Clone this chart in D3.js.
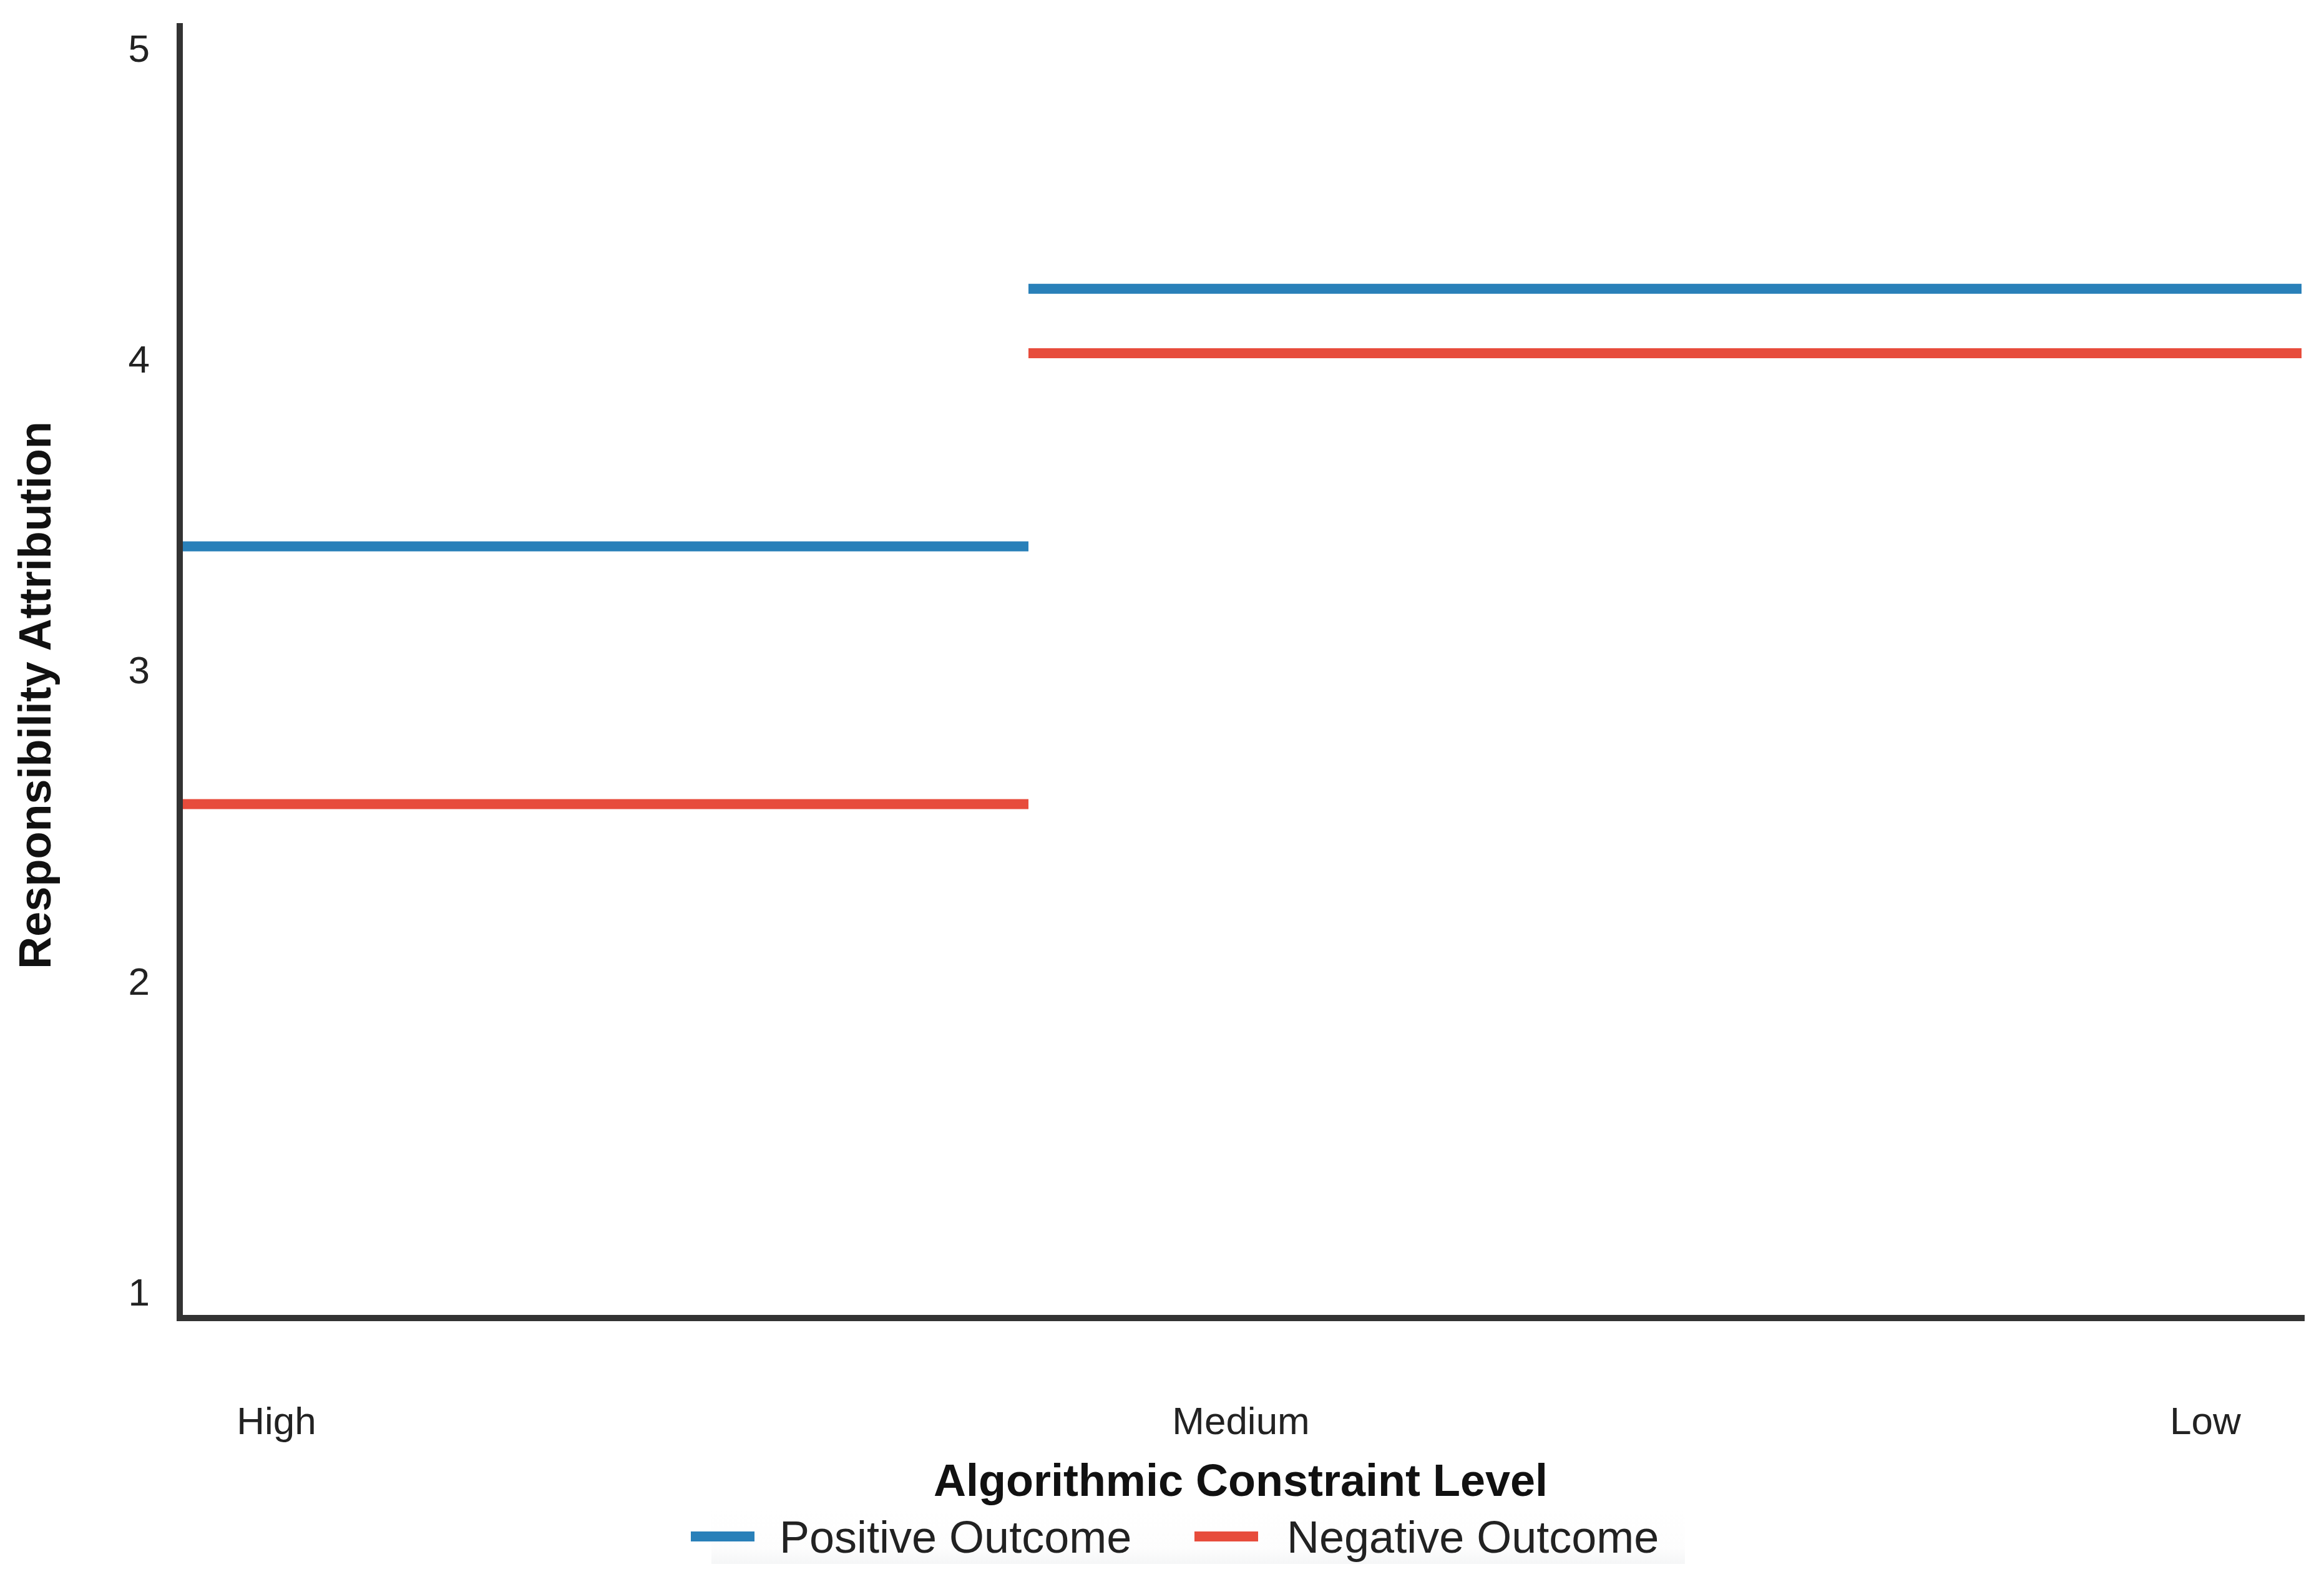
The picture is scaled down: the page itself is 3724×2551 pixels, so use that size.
<!DOCTYPE html>
<html>
<head>
<meta charset="utf-8">
<script src="https://cdn.jsdelivr.net/npm/d3@7"></script>
<style>
  html, body { margin: 0; padding: 0; background: #ffffff; }
  svg { display: block; }
  text { font-family: "Liberation Sans", Arial, sans-serif; }
</style>
</head>
<body>
<svg id="chart" width="3724" height="2551"></svg>
<script>
// ---- data ----
const categories = ["High", "Medium", "Low"];
const positiveValues = [3.4, 4.2, 4.2];
const negativeValues = [2.6, 4.0, 4.0];
const seriesNames = ["Positive Outcome", "Negative Outcome"];
const seriesColors = ["#2980b9", "#e74c3c"];
const yTickValues = [1, 2, 3, 4, 5];
const xTitle = "Algorithmic Constraint Level";
const yTitle = "Responsibility Attribution";

// ---- layout ----
const W = 3724, H = 2551;
const plot = { left: 288, right: 3688, top: 50, bottom: 2114 };

const svg = d3.select("#chart");
svg.append("rect").attr("width", W).attr("height", H).attr("fill", "#ffffff");

// scales
const y = d3.scaleLinear().domain([1, 5]).range([plot.bottom, plot.top]);
const yLabel = d3.scaleLinear().domain([1, 5]).range([2069, 76]);
const xCat = d3.scalePoint().domain(categories).range([plot.left, plot.right]).padding(0.1);
// step segments: each category holds its value until the next category
const xStep = d3.scaleLinear().domain([0, categories.length - 0.5]).range([plot.left, plot.right]);

// ---- series: horizontal segments, no vertical risers ----
const series = [
  { name: seriesNames[0], color: seriesColors[0], values: positiveValues },
  { name: seriesNames[1], color: seriesColors[1], values: negativeValues }
];
const seg = d3.line().x(d => d[0]).y(d => d[1]);

series.forEach(s => {
  s.values.forEach((v, i) => {
    const x0 = xStep(i);
    const x1 = xStep(Math.min(i + 1, categories.length - 0.5));
    svg.append("path")
      .attr("d", seg([[x0, y(v)], [x1, y(v)]]))
      .attr("fill", "none")
      .attr("stroke", s.color)
      .attr("stroke-width", 16)
      .attr("stroke-linecap", "butt");
  });
});

// ---- axes ----
const yAxis = d3.axisLeft(yLabel).tickValues(yTickValues).tickSize(0).tickPadding(0).tickFormat(d3.format("d"));
const gy = svg.append("g").attr("transform", "translate(240,0)").call(yAxis);
gy.select(".domain").remove();
gy.selectAll("text")
  .attr("font-size", 62)
  .attr("fill", "#222")
  .attr("font-family", "Liberation Sans, Arial, sans-serif")
  .attr("dy", "0.36em");

const xAxis = d3.axisBottom(xCat).tickSize(0).tickPadding(0);
const gx = svg.append("g").attr("transform", "translate(0,2276)").call(xAxis);
gx.select(".domain").remove();
gx.selectAll("text")
  .attr("font-size", 62)
  .attr("fill", "#222")
  .attr("font-family", "Liberation Sans, Arial, sans-serif")
  .attr("y", 0)
  .attr("dy", "0.36em");

// axis lines (L shape)
svg.append("path")
  .attr("d", `M${plot.left},42 L${plot.left},${2112} L${plot.right},${2112}`)
  .attr("fill", "none")
  .attr("stroke", "#333333")
  .attr("stroke-width", 10)
  .attr("stroke-linecap", "square");

// axis titles
svg.append("text")
  .attr("x", xCat("Medium"))
  .attr("y", 2378)
  .attr("text-anchor", "middle")
  .attr("dominant-baseline", "middle")
  .attr("font-size", 72)
  .attr("font-weight", "bold")
  .attr("fill", "#111")
  .text(xTitle);

svg.append("text")
  .attr("transform", "translate(62,1114) rotate(-90)")
  .attr("text-anchor", "middle")
  .attr("dominant-baseline", "middle")
  .attr("font-size", 72)
  .attr("font-weight", "bold")
  .attr("fill", "#111")
  .text(yTitle);

// ---- legend ----
const defs = svg.append("defs");
const grad = defs.append("linearGradient").attr("id", "legbg").attr("x1", 0).attr("y1", 0).attr("x2", 0).attr("y2", 1);
grad.append("stop").attr("offset", "0%").attr("stop-color", "#ffffff");
grad.append("stop").attr("offset", "70%").attr("stop-color", "#fdfdfd");
grad.append("stop").attr("offset", "100%").attr("stop-color", "#f5f6f7");
svg.append("rect")
  .attr("x", 1140).attr("y", 2420).attr("width", 1560).attr("height", 86)
  .attr("fill", "url(#legbg)");

const legendItems = [
  { name: seriesNames[0], color: seriesColors[0], x: 1107, tx: 1249 },
  { name: seriesNames[1], color: seriesColors[1], x: 1914, tx: 2062 }
];
const lg = svg.append("g");
legendItems.forEach(it => {
  lg.append("line")
    .attr("x1", it.x).attr("x2", it.x + 102)
    .attr("y1", 2462).attr("y2", 2462)
    .attr("stroke", it.color).attr("stroke-width", 16);
  lg.append("text")
    .attr("x", it.tx).attr("y", 2469)
    .attr("dominant-baseline", "middle")
    .attr("font-size", 72)
    .attr("fill", "#222")
    .text(it.name);
});
</script>
</body>
</html>
